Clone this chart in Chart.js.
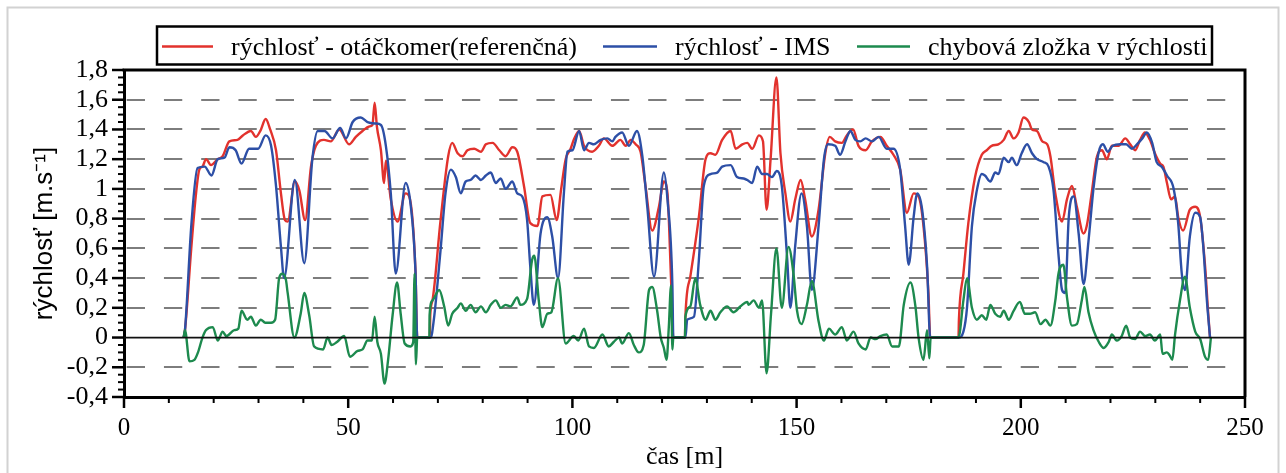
<!DOCTYPE html>
<html><head><meta charset="utf-8">
<script src="https://cdn.jsdelivr.net/npm/chart.js@4/dist/chart.umd.min.js"></script>
<style>html,body{margin:0;padding:0;background:#fff;}canvas{display:block;}</style>
</head><body>
<canvas id="c" width="1286" height="473"></canvas>
<script>
// ---- data ----
const seriesLabels = ['rýchlosť - otáčkomer(referenčná)', 'rýchlosť - IMS', 'chybová zložka v rýchlosti'];
const xTickValues = [0, 50, 100, 150, 200, 250];
const yTickLabels = ['-0,4','-0,2','0','0,2','0,4','0,6','0,8','1','1,2','1,4','1,6','1,8'];

// rýchlosť - otáčkomer (referenčná) : [čas, rýchlosť]
const refPts = [
[13.3,0],[13.6,0.05],[15.0,0.6],[16.0,0.95],[16.8,1.13],[17.5,1.15],[18.3,1.2],[19.4,1.16],[20.9,1.2],[22.0,1.22],
[23.5,1.32],[25.3,1.33],[26.5,1.36],[28.3,1.39],[29.4,1.35],[30.4,1.39],[31.6,1.47],[32.6,1.40],[33.9,1.26],[35.0,0.97],
[35.9,0.79],[36.5,0.78],[38.1,1.05],[39.1,0.99],[40.4,0.79],[41.7,1.15],[42.8,1.29],[44.6,1.33],[46.1,1.32],[48.0,1.40],
[50.2,1.30],[51.7,1.35],[53.2,1.39],[54.7,1.42],[55.4,1.43],[55.9,1.58],[56.4,1.42],[57.3,1.26],[58.0,1.04],[58.4,1.19],
[59.5,0.93],[61.0,0.78],[62.8,0.97],[63.6,0.95],[65.0,0.45],[65.4,0],[68.2,0],[68.3,0.15],[68.8,0.25],[70.6,0.79],
[72.3,1.22],[73.2,1.31],[74.4,1.24],[75.5,1.22],[76.6,1.26],[78.1,1.27],[79.6,1.25],[80.7,1.30],[82.2,1.31],[83.7,1.26],
[85.1,1.22],[86.6,1.28],[87.7,1.25],[89.2,1.02],[90.6,0.77],[92.2,0.75],[93.3,0.95],[95.1,0.96],[96.5,0.79],[97.5,1.0],
[98.5,1.2],[99.6,1.27],[100.3,1.33],[101.5,1.39],[102.6,1.29],[104.4,1.25],[105.9,1.29],[107.0,1.34],[108.9,1.29],[110.7,1.33],
[111.9,1.29],[113.0,1.33],[114.1,1.30],[115.2,1.25],[116.3,1.02],[117.8,0.72],[119.3,0.88],[120.4,1.05],[121.2,0.97],[122.0,0.39],
[122.5,0],[125.1,0],[125.2,0.14],[126.3,0.41],[128.2,0.81],[129.7,1.2],[130.8,1.24],[131.9,1.23],[133.4,1.33],[135.3,1.39],
[136.4,1.27],[137.9,1.30],[139.0,1.31],[140.1,1.27],[141.6,1.36],[142.5,1.32],[143.3,0.86],[144.2,1.2],[145.5,1.75],[146.4,1.24],
[147.5,0.97],[148.6,0.78],[149.7,0.93],[150.9,1.06],[151.9,0.93],[153.4,0.68],[154.9,0.86],[156.4,1.24],[157.4,1.35],[158.6,1.32],
[160.1,1.31],[161.2,1.36],[162.6,1.40],[163.8,1.29],[165.4,1.26],[166.8,1.32],[168.7,1.35],[170.1,1.29],[171.6,1.23],[173.1,1.13],
[174.6,0.84],[176.1,0.97],[177.2,0.95],[178.3,0.75],[179.4,0.30],[179.8,0],[186.1,0],[186.2,0.12],[187.2,0.43],[188.3,0.77],
[189.8,1.08],[191.3,1.23],[192.4,1.26],[193.5,1.29],[195.0,1.30],[196.2,1.33],[197.3,1.39],[198.4,1.34],[199.5,1.38],[200.6,1.48],
[201.8,1.45],[202.5,1.40],[203.6,1.39],[204.8,1.32],[205.9,1.30],[206.6,1.22],[207.7,0.97],[209.2,0.78],[210.3,0.93],[211.4,1.02],
[212.5,0.88],[214.0,0.70],[214.7,0.75],[215.8,0.97],[217.0,1.22],[218.1,1.26],[219.2,1.20],[220.3,1.29],[221.8,1.29],[223.3,1.34],
[224.4,1.30],[225.5,1.26],[226.6,1.33],[227.7,1.38],[228.8,1.33],[229.9,1.24],[231.1,1.17],[231.8,1.15],[232.6,1.04],[233.5,0.93],
[234.4,0.95],[235.1,0.81],[236.2,0.72],[237.7,0.86],[238.9,0.88],[240.0,0.81],[241.1,0.48],[241.8,0.16],[242.2,0]
];

// rýchlosť - IMS : [čas, rýchlosť]
const imsPts = [
[13.3,0],[13.6,0.05],[15.0,0.75],[16.4,1.14],[18.0,1.15],[19.5,1.09],[20.9,1.2],[22.4,1.21],[23.5,1.28],[24.9,1.26],
[26.2,1.17],[27.9,1.27],[29.9,1.27],[31.6,1.36],[32.8,1.29],[33.9,1.02],[35.0,0.61],[35.7,0.40],[38.1,1.06],[40.2,0.50],
[42.0,1.2],[43.2,1.39],[44.7,1.39],[46.5,1.34],[48.2,1.41],[49.5,1.34],[51.0,1.45],[52.8,1.48],[54.3,1.45],[56.1,1.44],
[57.3,1.43],[58.4,1.29],[59.5,0.97],[60.6,0.43],[62.8,1.04],[63.9,0.9],[65.0,0.45],[65.4,0],[68.4,0],[69.1,0.12],
[70.6,0.59],[71.7,0.97],[72.9,1.13],[74.0,1.08],[75.1,0.97],[76.2,1.05],[77.3,1.06],[78.4,1.09],[79.6,1.06],[80.7,1.09],
[81.8,1.11],[82.9,1.04],[84.0,1.07],[85.1,1.0],[86.6,1.05],[87.7,0.97],[88.8,0.95],[89.9,0.79],[90.6,0.48],[91.4,0.22],
[92.9,0.70],[94.4,0.81],[95.5,0.68],[96.8,0.40],[98.1,0.97],[98.9,1.25],[100.0,1.26],[101.5,1.39],[102.6,1.26],[103.7,1.31],
[104.8,1.30],[106.3,1.33],[107.8,1.34],[108.9,1.32],[109.6,1.35],[111.1,1.38],[112.6,1.29],[114.4,1.39],[115.6,1.22],[116.7,0.88],
[118.2,0.41],[120.4,1.11],[121.2,0.93],[122.3,0.35],[122.5,0],[125.2,0],[125.6,0.12],[127.1,0.14],[128.2,0.52],[129.3,1.02],
[130.8,1.10],[132.3,1.11],[133.4,1.15],[135.3,1.16],[136.7,1.08],[138.2,1.07],[139.0,1.06],[140.1,1.04],[141.2,1.15],[142.3,1.10],
[143.4,1.10],[144.5,1.08],[145.6,1.12],[146.7,1.02],[147.9,0.53],[148.6,0.20],[149.7,0.62],[151.1,0.97],[152.3,0.75],[153.4,0.32],
[154.9,0.75],[156.1,1.2],[157.0,1.30],[158.6,1.29],[159.7,1.23],[160.9,1.32],[162.0,1.39],[163.1,1.33],[164.2,1.32],[165.4,1.34],
[166.8,1.32],[168.3,1.35],[170.1,1.27],[171.6,1.27],[173.1,1.13],[174.2,0.75],[175.0,0.49],[176.1,0.81],[176.9,0.97],[178.0,0.86],
[179.1,0.48],[179.8,0],[186.1,0],[187.2,0.04],[188.0,0.2],[189.1,0.75],[190.2,0.99],[191.3,1.10],[192.0,1.09],[193.2,1.05],
[194.3,1.11],[195.0,1.10],[196.2,1.21],[197.3,1.18],[198.0,1.21],[199.1,1.16],[200.2,1.24],[201.4,1.30],[202.5,1.24],[203.6,1.20],
[205.1,1.18],[206.2,1.15],[207.3,0.99],[208.4,0.56],[209.2,0.32],[209.9,0.30],[210.7,0.81],[211.8,0.95],[212.9,0.70],[214.0,0.36],
[215.1,0.65],[216.2,1.0],[217.4,1.25],[218.3,1.30],[219.4,1.25],[220.5,1.29],[222.2,1.30],[223.5,1.30],[224.8,1.27],[225.9,1.30],
[227.1,1.34],[228.1,1.38],[229.3,1.31],[230.3,1.18],[231.4,1.15],[232.6,1.09],[234.1,1.0],[235.1,0.77],[235.9,0.43],[236.6,0.32],
[237.7,0.68],[238.9,0.84],[240.0,0.81],[240.7,0.61],[241.5,0.25],[242.2,0]
];

// chybová zložka v rýchlosti : [čas, rýchlosť]
const errPts = [
[13.3,0],[13.6,0.05],[14.6,-0.16],[15.7,-0.15],[16.5,-0.1],[17.5,0.0],[18.3,0.05],[19.8,0.07],[20.9,-0.02],[22.0,0.04],
[22.8,0.01],[24.6,0.05],[25.5,0.06],[26.2,0.18],[27.5,0.12],[28.3,0.14],[29.4,0.08],[30.5,0.12],[31.5,0.10],[32.8,0.10],
[33.7,0.12],[34.6,0.40],[35.3,0.43],[36.1,0.39],[36.5,0.30],[38.0,0.0],[39.4,0.16],[40.2,0.30],[41.3,0.15],[42.4,-0.06],
[44.4,-0.08],[45.4,0.0],[46.3,-0.05],[47.5,-0.03],[49.1,0.01],[50.4,-0.13],[52.1,-0.09],[53.2,-0.08],[54.3,-0.02],[55.3,-0.02],
[55.9,0.14],[56.5,-0.03],[57.3,-0.11],[58.1,-0.31],[58.9,-0.15],[59.9,0.15],[60.9,0.37],[61.7,0.16],[62.6,-0.04],[63.9,-0.06],
[64.5,-0.03],[64.8,0.43],[65.1,-0.18],[65.4,0],[68.1,0],[68.15,0.15],[68.8,0.25],[70.3,0.32],[71.4,0.21],[72.3,0.08],
[73.2,0.16],[74.4,0.2],[75.1,0.23],[76.2,0.18],[77.3,0.22],[78.4,0.17],[79.6,0.21],[80.7,0.17],[81.8,0.22],[82.9,0.25],
[84.0,0.2],[85.1,0.22],[86.2,0.21],[87.7,0.27],[88.4,0.22],[89.9,0.26],[91.0,0.52],[91.5,0.55],[92.5,0.25],[93.3,0.07],
[94.4,0.16],[95.3,0.17],[96.8,0.40],[98.5,-0.04],[100.3,0.01],[101.3,-0.02],[102.6,0.06],[103.7,-0.06],[104.8,-0.07],[106.7,0.02],
[108.1,-0.06],[109.2,-0.03],[110.4,0.0],[111.1,-0.04],[112.6,0.03],[113.7,-0.05],[114.8,-0.10],[115.9,-0.05],[117.1,0.32],[117.8,0.34],
[118.9,0.18],[119.7,0.0],[120.4,-0.07],[121.0,-0.15],[121.5,0.07],[122.0,0.35],[122.3,-0.08],[122.5,0],[125.1,0],[125.2,0.14],
[126.3,0.21],[127.4,0.40],[128.5,0.22],[129.7,0.12],[130.8,0.18],[131.9,0.12],[133.0,0.17],[134.5,0.21],[135.9,0.17],[137.5,0.21],
[139.0,0.24],[139.3,0.22],[140.4,0.25],[141.6,0.20],[142.3,0.25],[143.3,-0.24],[144.3,0.16],[145.5,0.60],[146.7,0.20],[148.2,0.61],
[149.3,0.43],[150.1,0.18],[151.1,0.09],[152.3,0.22],[153.4,0.38],[154.9,0.11],[156.1,-0.02],[157.2,0.06],[158.6,0.02],[160.1,0.07],
[161.2,-0.02],[162.7,0.04],[163.8,-0.04],[165.4,-0.08],[166.5,0.0],[167.6,-0.01],[168.7,0.01],[170.1,0.02],[171.3,-0.06],[172.8,-0.06],
[173.9,0.22],[175.4,0.37],[176.5,0.21],[177.2,0.0],[178.3,-0.15],[179.1,0.05],[179.6,-0.14],[179.9,0],[186.1,0],[187.2,0.25],
[188.0,0.40],[189.1,0.20],[190.2,0.12],[191.3,0.15],[192.3,0.12],[193.2,0.22],[194.3,0.16],[195.4,0.14],[196.2,0.18],[197.3,0.12],
[198.4,0.18],[199.8,0.24],[200.9,0.16],[202.0,0.16],[203.2,0.17],[204.4,0.09],[205.5,0.12],[206.6,0.08],[207.7,0.25],[208.4,0.43],
[209.5,0.49],[210.3,0.27],[211.4,0.08],[212.5,0.09],[213.6,0.25],[214.2,0.34],[215.1,0.17],[216.2,0.05],[217.4,-0.03],[218.5,-0.07],
[219.6,-0.03],[220.3,0.02],[221.4,-0.02],[222.5,0.01],[223.5,0.08],[224.4,0.0],[225.5,-0.01],[226.6,0.04],[227.7,0.01],[228.8,0.02],
[229.9,-0.02],[231.1,0.02],[231.6,-0.11],[232.6,-0.10],[233.2,-0.12],[233.8,-0.15],[234.4,0.02],[235.5,0.25],[236.6,0.41],[237.7,0.2],
[238.9,0.04],[240.0,-0.01],[241.1,-0.13],[241.8,-0.15],[242.4,0]
];

// ---- styles ----
const COLORS = ['#e2322d', '#2d4fa6', '#1d8a4e'];
const SERIF = "'Liberation Serif', 'Times New Roman', serif";
const SANS = "'Liberation Sans', Arial, sans-serif";

const toXY = pts => pts.map(p => ({x: p[0], y: p[1]}));

const decor = {
  id: 'decor',
  beforeDraw(chart) {
    const ctx = chart.ctx;
    ctx.save();
    ctx.fillStyle = '#fff';
    ctx.fillRect(0, 0, chart.width, chart.height);
    ctx.strokeStyle = '#d2d2d2';
    ctx.lineWidth = 2;
    ctx.strokeRect(7.5, 7.5, 1271, 490);
    ctx.restore();
  },
  beforeDatasetsDraw(chart) {
    const {ctx, scales: {y}} = chart;
    ctx.save();
    ctx.strokeStyle = '#7d7d7d';
    ctx.lineWidth = 2;
    for (let i = 1; i < 11; i++) {
      const v = -0.4 + i * 0.2;
      if (Math.abs(v) < 1e-9) continue;
      const py = Math.round(y.getPixelForValue(v));
      ctx.beginPath();
      for (let k = 0; k < 30; k++) {
        const x0 = 126.7 + 37.25 * k;
        ctx.moveTo(x0, py);
        ctx.lineTo(x0 + 18.3, py);
      }
      ctx.stroke();
    }
    ctx.restore();
  },
  afterDatasetsDraw(chart) {
    const {ctx, chartArea: a, scales: {y}} = chart;
    ctx.save();
    ctx.strokeStyle = '#111';
    ctx.lineWidth = 1.8;
    const py = y.getPixelForValue(0);
    ctx.beginPath(); ctx.moveTo(a.left, py); ctx.lineTo(a.right, py); ctx.stroke();
    ctx.restore();
  },
  afterDraw(chart) {
    const {ctx, chartArea: a, scales: {x, y}} = chart;
    ctx.save();
    ctx.strokeStyle = '#000';
    // top and right frame
    ctx.lineWidth = 3;
    ctx.beginPath();
    ctx.moveTo(a.left - 1.5, a.top); ctx.lineTo(a.right, a.top); ctx.lineTo(a.right, a.bottom);
    ctx.stroke();
    // y ticks (major every 0.2, minor every 0.05)
    for (let i = 0; i <= 44; i++) {
      const v = -0.4 + i * 0.05;
      const py = y.getPixelForValue(v);
      const major = i % 4 === 0;
      ctx.lineWidth = major ? 2.5 : 2;
      ctx.beginPath(); ctx.moveTo(a.left - (major ? 12 : 6), py); ctx.lineTo(a.left, py); ctx.stroke();
    }
    // x ticks (major every 50, minor every 10)
    for (let i = 0; i <= 25; i++) {
      const px = x.getPixelForValue(i * 10);
      const major = i % 5 === 0;
      ctx.lineWidth = major ? 2.5 : 2;
      ctx.beginPath(); ctx.moveTo(px, a.bottom); ctx.lineTo(px, a.bottom + (major ? 11 : 6)); ctx.stroke();
    }
    // legend box
    ctx.lineWidth = 2.5;
    ctx.strokeRect(157, 26.5, 1055, 38);
    const items = [{l0: 162, l1: 213, t: 231}, {l0: 603, l1: 657, t: 675}, {l0: 857, l1: 910, t: 928}];
    ctx.font = '26px ' + SERIF;
    ctx.textBaseline = 'alphabetic';
    ctx.fillStyle = '#000';
    chart.data.datasets.forEach((ds, i) => {
      const it = items[i];
      ctx.strokeStyle = ds.borderColor;
      ctx.lineWidth = 2.5;
      ctx.beginPath(); ctx.moveTo(it.l0, 46.5); ctx.lineTo(it.l1, 46.5); ctx.stroke();
      ctx.fillText(ds.label, it.t, 55);
    });
    ctx.restore();
  }
};

new Chart(document.getElementById('c'), {
  type: 'line',
  data: {
    datasets: [
      {label: seriesLabels[0], data: toXY(refPts), borderColor: COLORS[0], order: 2},
      {label: seriesLabels[1], data: toXY(imsPts), borderColor: COLORS[1], order: 1},
      {label: seriesLabels[2], data: toXY(errPts), borderColor: COLORS[2], order: 0}
    ]
  },
  options: {
    responsive: false,
    animation: false,
    datasets: {line: {borderWidth: 2.4, pointRadius: 0, fill: false, cubicInterpolationMode: 'monotone'}},
    layout: {padding: {top: 70, right: 41, bottom: 0, left: 0}},
    plugins: {legend: {display: false}, tooltip: {enabled: false}},
    scales: {
      x: {
        type: 'linear', min: 0, max: 250,
        afterBuildTicks: s => { s.ticks = xTickValues.map(v => ({value: v})); },
        afterFit: s => { s.height = 76; },
        grid: {display: false, drawTicks: false},
        border: {display: true, color: '#000', width: 3},
        ticks: {padding: 16, color: '#000', font: {family: SERIF, size: 25}, maxRotation: 0, autoSkip: false},
        title: {display: true, text: 'čas [m]', color: '#000', font: {family: SERIF, size: 26}, padding: {top: 0, bottom: 0}}
      },
      y: {
        type: 'linear', min: -0.4, max: 1.8,
        afterBuildTicks: s => { s.ticks = yTickLabels.map((t, i) => ({value: -0.4 + i * 0.2})); },
        afterFit: s => { s.width = 124; },
        grid: {display: false, drawTicks: false},
        border: {display: true, color: '#000', width: 3},
        ticks: {padding: 16, color: '#000', font: {family: SERIF, size: 26}, autoSkip: false,
          callback: (v, i) => yTickLabels[i]},
        title: {display: true, text: 'rýchlosť [m.s⁻¹]', color: '#000', font: {family: SANS, size: 26}, padding: {top: 29, bottom: 0}}
      }
    }
  },
  plugins: [decor]
});
</script>
</body></html>
